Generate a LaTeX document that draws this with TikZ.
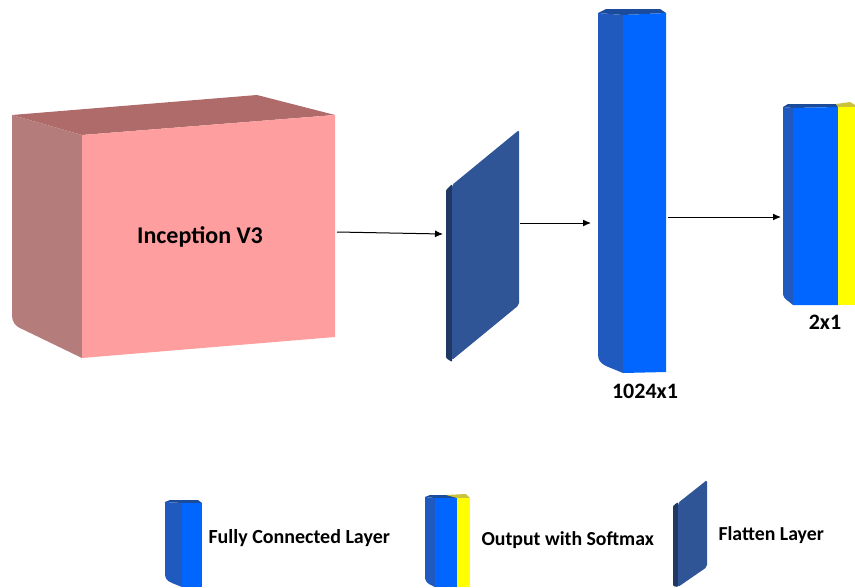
\documentclass[tikz,border=0pt]{standalone}
\usepackage{fontspec}
\setmainfont{Carlito}
\usetikzlibrary{positioning,arrows.meta}

\definecolor{incfront}{HTML}{FF9E9E}
\definecolor{incside}{HTML}{B47C7A}
\definecolor{inctop}{HTML}{AF6B6A}
\definecolor{flatfront}{HTML}{2F5597}
\definecolor{flatside}{HTML}{1F3864}
\definecolor{fcfront}{HTML}{0066FF}
\definecolor{fcside}{HTML}{215ABF}
\definecolor{fctop}{HTML}{1B4C9C}
\definecolor{smyellow}{HTML}{FFFF00}
\definecolor{smtop}{HTML}{C9C23A}

\begin{document}
\begin{tikzpicture}[x=1pt,y=-1pt,
    lbl/.style={font=\bfseries\fontsize{22}{26}\selectfont},
    leg/.style={font=\bfseries\fontsize{19.8}{23}\selectfont,anchor=west},
    conn/.style={-{Latex[length=8pt,width=7pt]},black,line width=1pt}]
    \useasboundingbox (0,0) rectangle (855,587);

    % Inception block
    \fill[inctop] (12,115) -- (257,95) -- (335,115) -- (82,135) -- cycle;
    \fill[incside] (12,115) -- (82,135) -- (82,358) -- (22,329) .. controls (15,326) and (12,322) .. (12,315) -- cycle;
    \fill[incfront] (82,135) -- (335,115) -- (335,337) -- (82,358) -- cycle;
    \node[lbl,font=\bfseries\fontsize{24}{28}\selectfont] (incep) at (200,237) {Inception V3};

    % Flatten layer
    \fill[flatside,rounded corners=1pt] (446,190) -- (452,184) -- (452,362) -- (446,358) -- cycle;
    \fill[flatfront,rounded corners=2pt] (452,185) -- (519,130) -- (519,305) -- (452,360) -- cycle;

    % Fully connected layer
    \fill[fctop] (598,13) -- (606,9) -- (660,9) -- (666,13) -- (623,15) -- cycle;
    \fill[fcside] (598,13) -- (623,15) -- (623,373) -- (606,366) .. controls (600,363) and (598,360) .. (598,354) -- cycle;
    \fill[fcfront] (623,15) -- (666,13) -- (666,372) -- (623,373) -- cycle;
    \node[lbl] (fc) at (645,391) {1024x1};

    % Output layer
    \fill[fctop] (783,107) -- (788,104) -- (836,104) -- (838,107) -- (793,108) -- cycle;
    \fill[smtop] (836,104) -- (850,102) -- (855,105) -- (855,107) -- (838,107) -- cycle;
    \fill[fcside] (783,107) -- (793,108) -- (793,305) -- (788,301) .. controls (785,299) and (783,297) .. (783,293) -- cycle;
    \fill[fcfront] (793,108) -- (838,107) -- (838,305) -- (793,305) -- cycle;
    \fill[smyellow] (838,107) -- (855,107) -- (855,305) -- (838,305) -- cycle;
    \node[lbl] (out) at (825,322) {2x1};

    % Connections
    \coordinate (incep-out) at (337,232);
    \coordinate (flat-in) at (443,234);
    \coordinate (flat-out) at (520,223);
    \coordinate (fc-in) at (591,223);
    \coordinate (fc-out) at (668,217);
    \coordinate (out-in) at (781,217);
    \draw[conn] (incep-out) -- (flat-in);
    \draw[conn] (flat-out) -- (fc-in);
    \draw[conn] (fc-out) -- (out-in);

    % Legend
    \fill[fctop] (165,502) -- (170,500) -- (198,500) -- (202,503) -- (182,503) -- cycle;
    \fill[fcside] (165,502) -- (182,503) -- (182,587) -- (172,583) .. controls (167,581) and (165,578) .. (165,574) -- cycle;
    \fill[fcfront] (182,503) -- (202,503) -- (202,587) -- (182,587) -- cycle;
    \node[leg,font=\bfseries\fontsize{20}{24}\selectfont] (leg-fc) at (205,538) {Fully Connected Layer};

    \fill[fctop] (425,497) -- (430,495) -- (452,495) -- (457,498) -- (435,498) -- cycle;
    \fill[smtop] (446,495) -- (466,494) -- (470,498) -- (457,498) -- cycle;
    \fill[fcside] (425,497) -- (435,498) -- (435,587) -- (429,584) .. controls (426,582) and (425,580) .. (425,576) -- cycle;
    \fill[fcfront] (435,498) -- (457,498) -- (457,587) -- (435,587) -- cycle;
    \fill[smyellow] (457,498) -- (470,498) -- (470,587) -- (457,587) -- cycle;
    \node[leg] (leg-sm) at (478,540) {Output with Softmax};

    \fill[flatside,rounded corners=1pt] (673,506) -- (678,502) -- (678,587) -- (673,586) -- cycle;
    \fill[flatfront,rounded corners=2pt] (678,503) -- (707,480) -- (707,567) -- (678,587) -- cycle;
    \node[leg] (leg-flat) at (715,535) {Flatten Layer};
\end{tikzpicture}
\end{document}
